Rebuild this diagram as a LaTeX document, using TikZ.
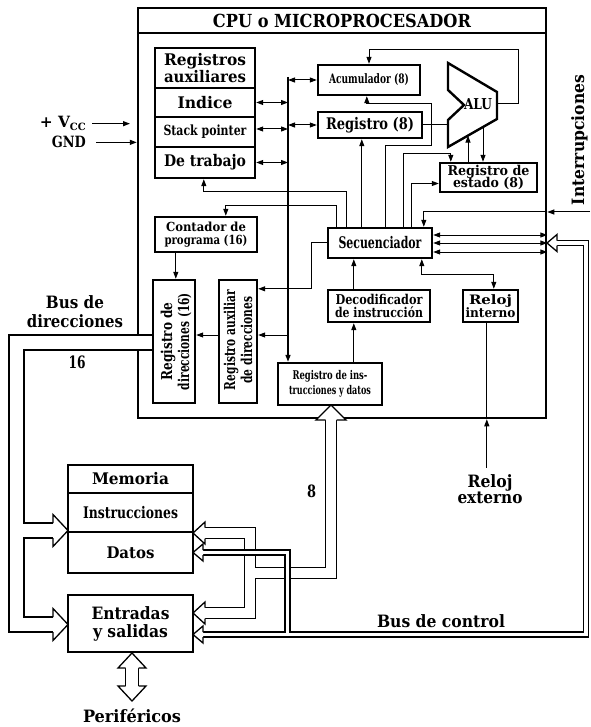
\documentclass[tikz,border=0pt]{standalone}
\usepackage{fontspec}
\setmainfont{DejaVu Serif}
\usetikzlibrary{arrows.meta,calc}
\newcommand\fw[3]{\resizebox{#1pt}{\height}{\fontsize{#2pt}{#2pt}\selectfont\bfseries #3}}
\lineskiplimit=-50pt
\tikzset{
  box/.style={draw, line width=2.4pt, fill=white, inner sep=0pt, align=center},
  mbox/.style={draw, line width=2.1pt, fill=white, inner sep=0pt, align=center},
  conn/.style={line width=1pt},
  txt/.style={inner sep=0pt, align=center},
  sk/.style={font=\fontsize{10pt}{#1pt}\selectfont},
  pics/hh/.style n args={3}{code={\draw[fill=white, line width=1.3pt, line join=miter] (-#1,-#2) -- (-#1,-#3) -- (0,0) -- (-#1,#3) -- (-#1,#2);}}
}
\begin{document}
\begin{tikzpicture}[x=1pt,y=-1pt,>={Triangle[length=7pt,width=5pt]}]
\useasboundingbox (0,0) rectangle (590,727);

% CPU frame
\node[draw, line width=2.5pt, minimum width=408pt, minimum height=410pt, inner sep=0pt] (cpu) at (342,213) {};
\draw[line width=2pt] ($(cpu.north west)+(0,26)$) -- ($(cpu.north east)+(0,26)$);
\node[txt, anchor=base] (title) at (342,28) {\fw{258}{18}{CPU o MICROPROCESADOR}};

% ---- buses (double lines) ----
\foreach \c/\w in {black/16.4pt, white/13.6pt}
  \draw[\c, line width=\w] (154,342.5) -- (16.5,342.5) -- (16.5,530.5) -- (55,530.5)
        (16.5,530.5) -- (16.5,624.5) -- (55,624.5);
\foreach \c/\w in {black/12.3pt, white/9.7pt}
  \draw[\c, line width=\w] (331,418) -- (331,573) -- (250,573) -- (250,533) -- (203,533)
        (250,573) -- (250,613) -- (203,613);
\foreach \c/\w in {black/6.3pt, white/3.7pt}
  \draw[\c, line width=\w] (555,243) -- (586,243) -- (586,634.5) -- (203,634.5)
        (287.5,634.5) -- (287.5,552.5) -- (203,552.5);
\foreach \c/\w in {black/14.3pt, white/11.7pt}
  \draw[\c, line width=\w] (132,666) -- (132,688);

% ---- register stack ----
\node[box, sk=17, minimum width=100pt, minimum height=40pt] (raux) at (205,68) {\fw{82}{16}{Registros}\\\fw{82}{16}{auxiliares}};
\node[box, minimum width=100pt, minimum height=29pt] (rind) at (205,102.5) {\fw{55}{16}{Indice}};
\node[box, minimum width=100pt, minimum height=30pt] (rsp) at (205,132) {\fw{83}{14}{Stack pointer}};
\node[box, minimum width=100pt, minimum height=31pt] (rdt) at (205,162.5) {\fw{82}{16}{De trabajo}};

\node[box, minimum width=102pt, minimum height=30pt] (acum) at (369,80) {\fw{80}{13}{Acumulador (8)}};
\node[box, minimum width=104pt, minimum height=26pt] (reg8) at (370,125) {\fw{88}{16}{Registro (8)}};
\node[box, sk=12.5, minimum width=97pt, minimum height=29pt] (estado) at (488.5,177.5) {\fw{82}{13.5}{Registro de}\\\fw{71}{13.5}{estado (8)}};
\node[box, sk=12.5, minimum width=102pt, minimum height=35pt] (cont) at (206,234.5) {\fw{80}{12.5}{Contador de}\\\fw{83}{12.5}{programa (16)}};
\node[box, minimum width=104pt, minimum height=30pt] (secu) at (380,243) {\fw{83}{16}{Secuenciador}};
\node[box, sk=13.5, minimum width=102pt, minimum height=32pt] (deco) at (379,306) {\fw{87}{13.5}{Decodificador}\\\fw{88}{13.5}{de instrucción}};
\node[box, sk=13.5, minimum width=55pt, minimum height=32pt] (reloj) at (490.5,306) {\fw{43}{13}{Reloj}\\\fw{50}{13}{interno}};
\node[box, minimum width=42pt, minimum height=123pt] (rdir) at (174,341.5) {};
\node[box, minimum width=38pt, minimum height=123pt] (raux2) at (238,341.5) {};
\node[box, sk=15, minimum width=104pt, minimum height=42pt] (rid) at (330,384) {\fw{75}{12}{Registro de ins-}\\\fw{82}{12}{trucciones y datos}};
\node[txt, sk=17, rotate=90] (rdirt) at (176,341.5) {\fw{78}{15}{Registro de}\\\fw{97}{15}{direcciones (16)}};
\node[txt, sk=17, rotate=90] (raux2t) at (238,340) {\fw{100}{15}{Registro auxiliar}\\\fw{87}{15}{de direcciones}};

% ALU
\draw[line width=2.4pt, line join=miter, fill=white] (448,63) -- (497,92) -- (497,119) -- (448,147) -- (448,120) -- (464,105) -- (448,90) -- cycle;
\node[txt] (alu) at (478,104.5) {\fw{28}{15}{ALU}};
\coordinate (aluOut) at (497,104);
\coordinate (aluIn) at (448,125);
\coordinate (aluS1) at (468,135.6);
\coordinate (aluS2) at (483,127);

% ---- memory and I/O ----
\node[mbox, minimum width=125pt, minimum height=28pt] (memt) at (130.5,479) {\fw{77}{16}{Memoria}};
\node[mbox, minimum width=125pt, minimum height=39pt] (memi) at (130.5,512.5) {\fw{95}{16}{Instrucciones}};
\node[mbox, minimum width=125pt, minimum height=41pt] (memd) at (130.5,552.5) {\fw{48}{16}{Datos}};
\node[mbox, sk=18, minimum width=125pt, minimum height=57pt] (es) at (130.5,623.5) {\fw{78}{17}{Entradas}\\\fw{75}{17}{y salidas}};

% hollow bus heads
\pic at (68,530.5) {hh={15}{7.5}{16}};
\pic at (68,624.5) {hh={15}{7.5}{16}};
\pic[rotate=180] at (193,533) {hh={12}{5.5}{11}};
\pic[rotate=180] at (193,613) {hh={12}{5.5}{11}};
\pic[rotate=180] at (193,552.5) {hh={10}{2.5}{8.5}};
\pic[rotate=180] at (193,634.5) {hh={10}{2.5}{8.5}};
\pic[rotate=180] at (547,243) {hh={10}{2.5}{8.5}};
\pic[rotate=90] at (331,405) {hh={15}{5.5}{15}};
\pic[rotate=90] at (132,653) {hh={15}{6.5}{14}};
\pic[rotate=-90] at (132,701) {hh={15}{6.5}{14}};

% ---- internal bus and connectors ----
\coordinate (busT) at (288,77);
\draw[line width=1.5pt,->] (busT) -- (busT |- rid.north);
\draw[conn,<->] (acum.west -| busT) -- (acum.west);
\draw[conn,<->] (reg8.west -| busT) -- (reg8.west);
\draw[conn,<->] (rind.east) -- (rind.east -| busT);
\coordinate (spSide) at ($(rsp.east)+(0,-3)$);
\draw[conn,<->] (spSide) -- (spSide -| busT);
\draw[conn,<->] (rdt.east) -- (rdt.east -| busT);

\draw[conn,->] (aluOut) -- (518,104) -- (518,50) -| (acum.north);
\draw[conn] (reg8.east) -- (aluIn);
\draw[conn,->] (estado.north -| aluS1) -- (aluS1);
\draw[conn,->] (aluS2) -- (estado.north -| aluS2);

\draw[conn,->] ($(secu.north west)+(10,0)$) -- ++(0,-21) -| ($(cont.north west)+(72,0)$);
\draw[conn,->] ($(secu.north west)+(20,0)$) -- ++(0,-35) -| ($(rdt.south west)+(50,0)$);
\draw[conn,->] ($(secu.north west)+(35,0)$) -- ($(reg8.south west)+(45,0)$);
\draw[conn,->] ($(secu.north west)+(59,0)$) -- ++(0,-81) -- ++(46,0) -- ++(0,-42) -| ($(acum.south west)+(50,0)$);
\draw[conn,->] ($(secu.north west)+(77,0)$) -- ++(0,-73) -| ($(estado.north west)+(12,0)$);
\draw[conn,->] ($(secu.north west)+(85,0)$) |- ($(estado.west)+(0,6)$);

\coordinate (intsrc) at (590,212);
\coordinate (intin) at (cpu.east |- intsrc);
\draw[conn,->] (intsrc) -- (intin);
\draw[conn,->] (intin) -| ($(secu.north west)+(97,0)$);
\foreach \dy in {-8,0,9}{
  \coordinate (s) at ($(secu.east)+(0,\dy)$);
  \draw[conn,<->] (s) -- (s -| cpu.east);
}

\draw[conn,<->] ($(secu.south west)+(95,0)$) -- ++(0,15) -| ($(reloj.north west)+(32,0)$);
\draw[conn,->] ($(deco.north west)+(27,0)$) -- ($(secu.south west)+(27,0)$);
\draw[conn,->] ($(rid.north west)+(77,0)$) -- ($(deco.south west)+(27,0)$);
\draw[conn,->] ($(secu.west)+(0,-1)$) -- ++(-15,0) |- ($(raux2.north east)+(0,10)$);
\draw[conn,->] ($(cont.south west)+(22,0)$) -- ($(rdir.north west)+(24,0)$);
\coordinate (raIn) at ($(raux2.east)+(0,-6.5)$);
\draw[conn,->] (busT |- raIn) -- (raIn);
\draw[conn,->] ($(raux2.west)+(0,-6.5)$) -- ($(rdir.east)+(0,-6.5)$);

% ---- external labels ----
\node[txt, sk=16] (relext) at (490,489.5) {\fw{45}{17}{Reloj}\\\fw{65}{17}{externo}};
\coordinate (rx) at ($(reloj.south west)+(25,0)$);
\coordinate (rxs) at ($(rx |- relext.north)+(0,-7)$);
\draw[conn,->] (rxs) -- (rx |- cpu.south);
\draw[conn] (rx |- cpu.south) -- (rx);

\node[txt, anchor=base east] (vcc) at (86,128) {\resizebox{46pt}{\height}{\fontsize{15.5pt}{15.5pt}\selectfont\bfseries + V\raisebox{-2.5pt}{\fontsize{10pt}{10pt}\selectfont CC}}};
\node[txt, anchor=base east] (gnd) at (86,148) {\fw{34}{15.5}{GND}};
\draw[line width=1.3pt,->] ([xshift=6pt]vcc.east) -- ++(38,0);
\draw[line width=1.3pt,->] ([xshift=10pt]gnd.east) -- (gnd.east -| cpu.west);

\node[txt, sk=19] (busdir) at (75,311.5) {\fw{58}{17}{Bus de}\\\fw{96}{17}{direcciones}};
\node[txt, anchor=base] (n16) at (77,368) {\fw{17}{17}{16}};
\node[txt, anchor=base] (n8) at (311.5,497) {\fw{9}{17}{8}};
\node[txt, anchor=base] (busctl) at (441,627) {\fw{128}{17}{Bus de control}};
\node[txt, anchor=base] (perif) at (132,722) {\fw{98}{17}{Periféricos}};
\node[txt, anchor=base, rotate=90] (interr) at (584,140) {\fw{130}{17}{Interrupciones}};
\end{tikzpicture}
\end{document}
